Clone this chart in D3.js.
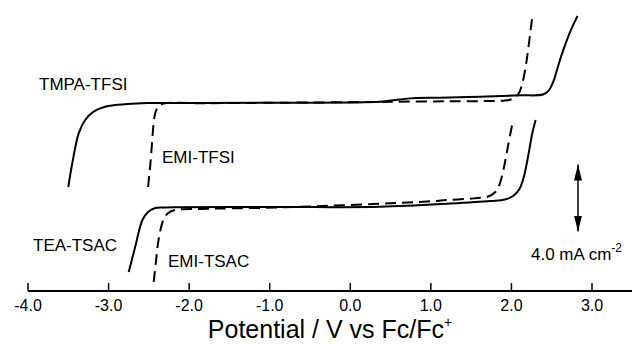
<!DOCTYPE html>
<html>
<head>
<meta charset="utf-8">
<script src="https://cdn.jsdelivr.net/npm/d3@7"></script>
<style>
  body { margin: 0; background: #fff; }
  text { font-family: "Liberation Sans", Arial, sans-serif; fill: #000; }
</style>
</head>
<body>
<script>
// x tick labels
var xTicks = [-4, -3, -2, -1, 0, 1, 2, 3];

// curves: [potential V vs Fc/Fc+, current mA cm-2 (stacked offset)]
var tmpaTfsi = [[-3.50,6.21],[-3.45,7.64],[-3.37,9.43],[-3.29,10.21],[-3.19,10.69],[-3.01,11.04],
  [-2.77,11.16],[-2.52,11.22],[-1.86,11.22],[-0.87,11.24],[0.37,11.30],[0.56,11.40],[0.74,11.50],
  [1.12,11.54],[1.61,11.60],[2.11,11.68],[2.39,11.73],[2.46,11.95],[2.52,12.50],[2.59,13.60],
  [2.66,14.60],[2.74,15.60],[2.82,16.42]];
var emiTfsi = [[-2.51,6.21],[-2.48,7.64],[-2.44,10.03],[-2.42,10.63],[-2.38,11.04],[-2.32,11.19],
  [-1.86,11.21],[-0.87,11.24],[0.37,11.29],[1.24,11.33],[1.92,11.37],[1.99,11.43],[2.06,11.61],
  [2.10,11.88],[2.13,12.30],[2.17,13.19],[2.21,14.51],[2.26,16.42]];
var teaTsac = [[-2.75,1.13],[-2.67,2.63],[-2.58,4.24],[-2.51,4.72],[-2.42,4.96],[-2.30,4.99],
  [-0.87,5.01],[0.37,5.03],[1.24,5.22],[1.74,5.37],[1.92,5.46],[2.02,5.67],[2.10,6.09],
  [2.16,6.93],[2.21,8.12],[2.26,9.43],[2.30,10.21]];
var emiTsac = [[-2.44,0.54],[-2.41,1.85],[-2.38,3.04],[-2.32,4.24],[-2.26,4.66],[-2.17,4.84],
  [-1.86,4.90],[-0.87,4.99],[0.91,5.33],[1.20,5.43],[1.53,5.53],[1.71,5.64],[1.80,5.91],
  [1.85,6.33],[1.90,7.22],[1.96,8.72],[2.02,10.21]];

// scale bar: 4.0 mA cm-2
var scaleBar = [3.55, 7.55];

var width = 632, height = 347;

var svg = d3.select("body").append("svg")
    .attr("width", width)
    .attr("height", height);

var x = d3.scaleLinear().domain([-4, 3]).range([28, 592]);
var y = d3.scaleLinear().domain([0, 4]).range([291, 224]);

// x axis
var axis = svg.append("g")
    .attr("transform", "translate(0," + y(0) + ")");
axis.append("line")
    .attr("x1", x(-4)).attr("x2", width)
    .attr("stroke", "#000").attr("stroke-width", 2);
axis.selectAll(".tick").data(xTicks).enter()
    .append("line")
    .attr("x1", d => x(d)).attr("x2", d => x(d))
    .attr("y1", 0).attr("y2", -8)
    .attr("stroke", "#000").attr("stroke-width", 1.5);
axis.selectAll(".tl").data(xTicks).enter()
    .append("text")
    .attr("x", d => x(d)).attr("y", 20)
    .attr("text-anchor", "middle")
    .style("font-size", "16px")
    .text(d => d3.format(".1f")(d).replace("−", "-"));

var title = svg.append("text")
    .attr("x", 330).attr("y", 338)
    .attr("text-anchor", "middle")
    .style("font-size", "25px");
title.append("tspan").text("Potential / V vs Fc/Fc");
title.append("tspan").attr("dy", -11).style("font-size", "14px").text("+");

// curves
var line = d3.line()
    .x(d => x(d[0]))
    .y(d => y(d[1]))
    .curve(d3.curveCatmullRom.alpha(0.5));

function drawCurve(data, dashed) {
    svg.append("path")
        .datum(data)
        .attr("d", line)
        .attr("fill", "none")
        .attr("stroke", "#000")
        .attr("stroke-width", 2)
        .attr("stroke-dasharray", dashed ? "11,6" : null);
}
drawCurve(tmpaTfsi, false);
drawCurve(emiTfsi, true);
drawCurve(teaTsac, false);
drawCurve(emiTsac, true);

// labels
var labels = [
    {t: "TMPA-TFSI", x: 39, y: 90},
    {t: "EMI-TFSI", x: 162, y: 163},
    {t: "TEA-TSAC", x: 33, y: 251},
    {t: "EMI-TSAC", x: 168, y: 267}
];
svg.selectAll(".lab").data(labels).enter()
    .append("text")
    .attr("x", d => d.x).attr("y", d => d.y)
    .style("font-size", "17px")
    .text(d => d.t);

// scale bar with double arrow
var defs = svg.append("defs");
defs.append("marker")
    .attr("id", "head")
    .attr("viewBox", "0 0 16 8")
    .attr("refX", 16).attr("refY", 4)
    .attr("markerWidth", 16).attr("markerHeight", 8)
    .attr("markerUnits", "userSpaceOnUse")
    .attr("orient", "auto-start-reverse")
    .append("path")
    .attr("d", "M0,0L16,4L0,8Z")
    .attr("fill", "#000");

svg.append("line")
    .attr("x1", 578).attr("x2", 578)
    .attr("y1", y(scaleBar[0])).attr("y2", y(scaleBar[1]))
    .attr("stroke", "#000").attr("stroke-width", 1.5)
    .attr("marker-start", "url(#head)")
    .attr("marker-end", "url(#head)");

var sb = svg.append("text")
    .attr("x", 531).attr("y", 260)
    .style("font-size", "17px");
sb.append("tspan").text("4.0 mA cm");
sb.append("tspan").attr("dy", -8).style("font-size", "12px").text("-2");
</script>
</body>
</html>
